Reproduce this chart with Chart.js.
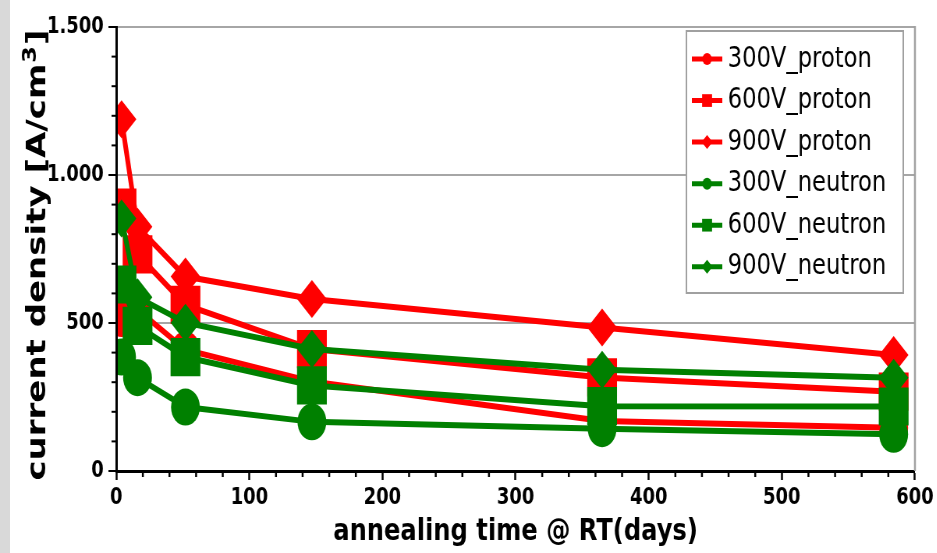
<!DOCTYPE html>
<html><head><meta charset="utf-8">
<script src="https://cdn.jsdelivr.net/npm/chart.js@4/dist/chart.umd.min.js"></script>
<style>
html,body{margin:0;padding:0;background:#fff;overflow:hidden;width:937px;height:553px;}
#band{position:absolute;left:0;top:0;width:10px;height:553px;background:#d9d9d9;}
#wrap{position:absolute;left:0;top:0;width:1201px;height:553px;transform:scaleX(0.78);transform-origin:0 0;}
</style></head><body>
<div id="band"></div>
<div id="wrap"><canvas id="c"></canvas></div>
<script>
// ---- data ----
const days = [4, 16, 52, 147, 365, 584];
const proton300 = [515, 545, 410, 302, 169, 146];
const proton600 = [890, 732, 561, 412, 316, 268];
const proton900 = [1188, 825, 657, 581, 485, 392];
const neutron300 = [385, 315, 216, 166, 143, 124];
const neutron600 = [630, 490, 385, 289, 219, 218];
const neutron900 = [853, 587, 501, 412, 342, 315];
const seriesLabels = ['300V_proton','600V_proton','900V_proton','300V_neutron','600V_neutron','900V_neutron'];
const xTickValues = [0, 100, 200, 300, 400, 500, 600];
const yTickValues = [0, 500, 1000, 1500];
const xTitle = 'annealing time @ RT(days)';
const yTitleMain = 'current density [A/cm';
const yTitleSup = '3';
const yTitleEnd = ']';

const RED = '#ff0000', GREEN = '#008000';
const FONT = 'DejaVu Sans';

function ds(label, values, color, style, radius, order) {
  return {
    label,
    data: days.map((d, i) => ({x: d, y: values[i]})),
    borderColor: color, backgroundColor: color,
    borderWidth: 6, tension: 0,
    pointStyle: style, pointRadius: radius, pointHoverRadius: radius,
    pointBorderWidth: 0, pointBackgroundColor: color,
    order,
    clip: {left: 0, top: false, right: false, bottom: false}
  };
}

const datasets = [
  ds(seriesLabels[0], proton300, RED, 'circle', 18.5, 2),
  ds(seriesLabels[1], proton600, RED, 'rect', 27, 2),
  ds(seriesLabels[2], proton900, RED, 'rectRot', 19, 2),
  ds(seriesLabels[3], neutron300, GREEN, 'circle', 18.5, 1),
  ds(seriesLabels[4], neutron600, GREEN, 'rect', 27, 1),
  ds(seriesLabels[5], neutron900, GREEN, 'rectRot', 19, 1)
];

const legendRadius = {circle: 6, rect: 9, rectRot: 7};

const extras = {
  id: 'extras',
  afterDraw(chart) {
    const ctx = chart.ctx, a = chart.chartArea;
    const xs = chart.scales.x, ys = chart.scales.y;
    ctx.save();
    // right border
    ctx.strokeStyle = '#a0a0a0'; ctx.lineWidth = 2.5;
    ctx.beginPath(); ctx.moveTo(a.right, a.top - 1); ctx.lineTo(a.right, a.bottom); ctx.stroke();
    // minor ticks
    ctx.strokeStyle = '#000'; ctx.lineWidth = 2.5;
    for (let v = 0; v <= 600; v += 20) {
      if (v % 100 === 0) continue;
      const px = xs.getPixelForValue(v);
      ctx.beginPath(); ctx.moveTo(px, a.bottom); ctx.lineTo(px, a.bottom + 6); ctx.stroke();
    }
    ctx.lineWidth = 2;
    for (let v = 0; v <= 1500; v += 100) {
      if (v % 500 === 0) continue;
      const py = ys.getPixelForValue(v);
      ctx.beginPath(); ctx.moveTo(a.left - 6, py); ctx.lineTo(a.left, py); ctx.stroke();
    }
    // y axis title with superscript
    const big = 'bold 34px "' + FONT + '"', small = 'bold 24px "' + FONT + '"';
    ctx.font = big; const w1 = ctx.measureText(yTitleMain).width, w3 = ctx.measureText(yTitleEnd).width;
    ctx.font = small; const w2 = ctx.measureText(yTitleSup).width;
    const total = w1 + w2 + w3;
    ctx.translate(58, 256); ctx.rotate(-Math.PI / 2);
    ctx.fillStyle = '#000'; ctx.textAlign = 'left'; ctx.textBaseline = 'alphabetic';
    let x0 = -total / 2;
    ctx.font = big; ctx.fillText(yTitleMain, x0, 0);
    ctx.font = small; ctx.fillText(yTitleSup, x0 + w1 + 1, -12);
    ctx.font = big; ctx.fillText(yTitleEnd, x0 + w1 + w2 + 2, 0);
    ctx.setTransform(1, 0, 0, 1, 0, 0);
    // legend
    const L = 880, T = 31, R = 1158, B = 293;
    ctx.fillStyle = '#fff'; ctx.fillRect(L, T, R - L, B - T);
    ctx.strokeStyle = '#a0a0a0'; ctx.lineWidth = 2; ctx.strokeRect(L, T, R - L, B - T);
    chart.data.datasets.forEach((d, i) => {
      const y = 59 + i * 41.55;
      ctx.strokeStyle = d.borderColor; ctx.lineWidth = 5;
      ctx.beginPath(); ctx.moveTo(887, y); ctx.lineTo(926, y); ctx.stroke();
      ctx.fillStyle = d.borderColor;
      Chart.helpers.drawPoint(ctx, {pointStyle: d.pointStyle, radius: legendRadius[d.pointStyle], borderWidth: 0, rotation: 0}, 906.5, y);
      ctx.fillStyle = '#000';
      ctx.font = '29px "' + FONT + '"';
      ctx.textAlign = 'left'; ctx.textBaseline = 'middle';
      ctx.fillText(d.label, 933, y);
    });
    ctx.restore();
  }
};

new Chart(document.getElementById('c'), {
  type: 'line',
  data: {datasets},
  options: {
    responsive: true, maintainAspectRatio: false, devicePixelRatio: 1,
    animation: false,
    layout: {padding: {left: 0, right: 27, top: 19, bottom: 0}},
    plugins: {legend: {display: false}, tooltip: {enabled: false}, title: {display: false}},
    scales: {
      x: {
        type: 'linear', min: 0, max: 600,
        afterBuildTicks: s => { s.ticks = xTickValues.map(v => ({value: v})); },
        afterFit: s => { s.height = 82; },
        ticks: {color: '#000', padding: 4, font: {family: FONT, size: 23, weight: 'bold'}},
        grid: {drawOnChartArea: false, tickColor: '#000', tickLength: 9, tickWidth: 2.5},
        border: {display: true, color: '#000', width: 3, z: 1},
        title: {display: true, text: xTitle, color: '#000', padding: {top: 0, bottom: 2},
                font: {family: FONT, size: 31, weight: 'bold'}}
      },
      y: {
        type: 'linear', min: 0, max: 1500,
        afterBuildTicks: s => { s.ticks = yTickValues.map(v => ({value: v})); },
        afterFit: s => { s.width = 149; },
        ticks: {color: '#000', padding: 6, font: {family: FONT, size: 23, weight: 'bold'},
                callback: v => v >= 1000 ? Math.floor(v / 1000) + '.' + String(v % 1000).padStart(3, '0') : String(v)},
        grid: {color: c => (c.tick && c.tick.value === 0) ? 'rgba(0,0,0,0)' : '#a6a6a6', lineWidth: 2,
               tickColor: '#000', tickLength: 10, tickWidth: 2},
        border: {display: true, color: '#000', width: 3, z: 1},
        title: {display: false}
      }
    }
  },
  plugins: [extras]
});
</script>
</body></html>
